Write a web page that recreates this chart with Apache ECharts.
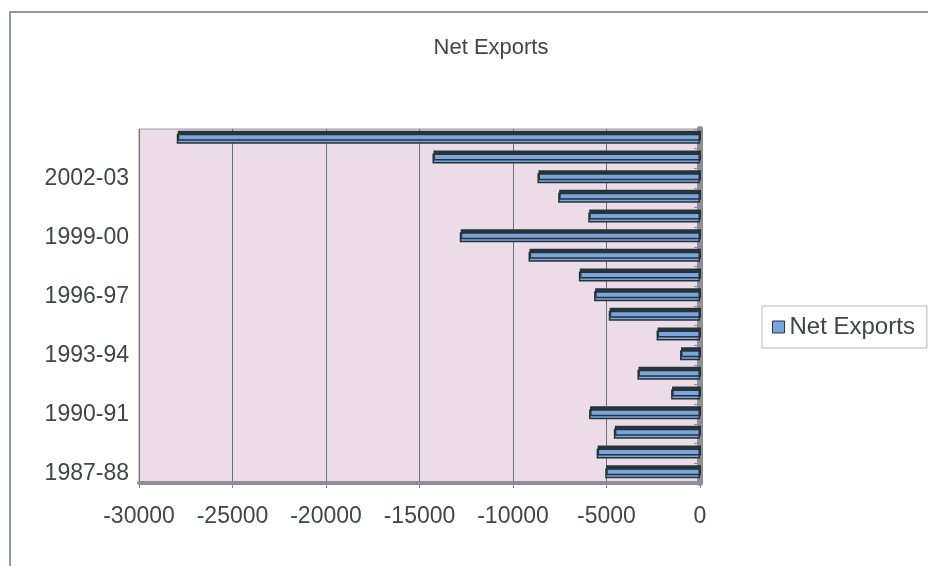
<!DOCTYPE html>
<html>
<head>
<meta charset="utf-8">
<script src="https://cdn.jsdelivr.net/npm/echarts@6/dist/echarts.min.js"></script>
<style>html,body{margin:0;padding:0;background:#fff;}#c{width:928px;height:566px;}</style>
</head>
<body>
<div id="c"></div>
<script>
var categories = ['1987-88','1988-89','1989-90','1990-91','1991-92','1992-93','1993-94','1994-95','1995-96','1996-97','1997-98','1998-99','1999-00','2000-01','2001-02','2002-03','2003-04','2004-05'];
var netExports = [-5067,-5527,-4607,-5932,-1546,-3345,-1068,-2323,-4881,-5663,-6478,-9170,-12848,-5976,-7587,-8693,-14307,-27981];
var xTicks = [-30000,-25000,-20000,-15000,-10000,-5000,0];
var seriesName = 'Net Exports';
var titleText = 'Net Exports';

var font = '"Liberation Sans", Arial, sans-serif';
var textColor = '#3e4843';
var chart = echarts.init(document.getElementById('c'), null, {renderer: 'canvas'});
chart.setOption({
  backgroundColor: '#ffffff',
  animation: false,
  title: {
    text: titleText, left: 486, top: 32, textAlign: 'center',
    textStyle: {fontFamily: font, fontSize: 22, fontWeight: 'normal', color: textColor}
  },
  graphic: [{
    type: 'rect', silent: true, z: -1,
    shape: {x: 10, y: 12, width: 960, height: 600},
    style: {fill: 'none', stroke: '#6f7a74', lineWidth: 1.5}
  }],
  legend: {
    data: [seriesName], left: 762, top: 306, orient: 'vertical',
    icon: 'rect', itemWidth: 12, itemHeight: 12, itemGap: 5,
    padding: [9, 12, 9, 10],
    borderColor: '#b5b8b6', borderWidth: 1,
    itemStyle: {borderColor: '#2c3a40', borderWidth: 1},
    textStyle: {fontFamily: font, fontSize: 24, color: textColor}
  },
  grid: {
    left: 139, right: 228, top: 129, bottom: 83, show: true,
    backgroundColor: '#ecdce8', borderColor: '#9a98a0', borderWidth: 1
  },
  xAxis: {
    type: 'value', min: -30000, max: 0, interval: 5000,
    axisLine: {show: true, onZero: false, lineStyle: {color: '#8f8e98', width: 4}},
    axisTick: {show: true, length: 5, lineStyle: {color: '#8f8e98'}},
    axisLabel: {fontFamily: font, fontSize: 23, color: textColor, margin: 22,
      formatter: function (v) { return xTicks.indexOf(v) >= 0 ? String(v) : ''; }},
    splitLine: {show: true, lineStyle: {color: '#6e6d7c', width: 1}}
  },
  yAxis: {
    type: 'category', data: categories,
    axisLine: {show: true, lineStyle: {color: '#8f8e98', width: 6}},
    axisTick: {show: true, interval: 0, length: 6, lineStyle: {color: '#8f8e98'}},
    axisLabel: {interval: 2, fontFamily: font, fontSize: 23, color: textColor, margin: 10},
    splitLine: {show: false}
  },
  series: [{
    name: seriesName, type: 'bar', data: netExports, barWidth: 10,
    itemStyle: {
      color: '#7ba4dc', borderColor: '#26343a', borderWidth: 1.5,
      shadowColor: '#26343a', shadowOffsetX: 1, shadowOffsetY: -3, shadowBlur: 0
    }
  }]
});
</script>
</body>
</html>
